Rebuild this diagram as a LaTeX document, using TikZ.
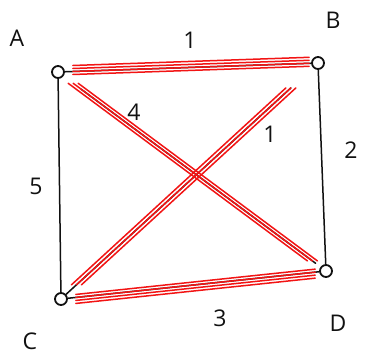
\documentclass[tikz,border=0pt]{standalone}
\usepackage{fontspec}
\setmainfont{Open Sans}
\definecolor{sketchRed}{HTML}{F21414}
\definecolor{sketchInk}{HTML}{111111}
\tikzset{
  sketch graph/.style={
    x=1pt, y=-1pt, line width=1.4pt, line cap=round, draw=sketchInk,
    every node/.style={font=\fontsize{23}{27}\selectfont, text=sketchInk}
  },
  sketch vertex/.style={circle, draw=sketchInk, line width=1.8pt,
    minimum size=12pt, inner sep=0pt},
  sketch edge/.style={draw=sketchInk, line width=1.5pt},
  sketch path/.style={draw=sketchRed, line width=1.5pt}
}

\begin{document}
\begin{tikzpicture}[sketch graph]
    \useasboundingbox (0,0) rectangle (370,357);
    % vertices
    \node[sketch vertex] (A) at (58,72) {};
    \node[sketch vertex] (B) at (318,63) {};
    \node[sketch vertex] (C) at (61,299) {};
    \node[sketch vertex] (D) at (326,271) {};
    \node (lA) at (17,38) {A};
    \node (lB) at (333,20) {B};
    \node (lC) at (30,341) {C};
    \node (lD) at (338,323) {D};
    % all edges
    \draw[sketch edge] (A) -- (B);
    \draw[sketch edge] (A) -- (C);
    \draw[sketch edge] (B) -- (D);
    \draw[sketch edge] (C) -- (D);
    \draw[sketch edge, shorten <=22pt, shorten >=6pt] (A) -- (D);
    \draw[sketch edge, shorten <=30pt] (B) -- (C);
    % highlighted tour
    \foreach \shiftY in {-3,0,3,6} {
      \draw[sketch path, shorten <=8pt, shorten >=2pt,
        transform canvas={yshift=\shiftY pt}] (A) -- (B);
      \draw[sketch path, shorten <=8pt, shorten >=4pt,
        transform canvas={yshift=-\shiftY pt}] (C) -- (D);
    }
    \foreach \shiftX in {-5,0,5} {
      \draw[sketch path, shorten <=12pt, shorten >=10pt,
        transform canvas={xshift=\shiftX pt}] (A) -- (D);
      \draw[sketch path, shorten <=30pt, shorten >=14pt,
        transform canvas={xshift=\shiftX pt}] (B) -- (C);
    }
    % weights
    \node (wAB) at (190,40) {1};
    \node (wBD) at (351,150) {2};
    \node (wCD) at (220,318) {3};
    \node (wAD) at (134,112) {4};
    \node (wAC) at (36,186) {5};
    \node (wBC) at (270,134) {1};
  \end{tikzpicture}
\end{document}
